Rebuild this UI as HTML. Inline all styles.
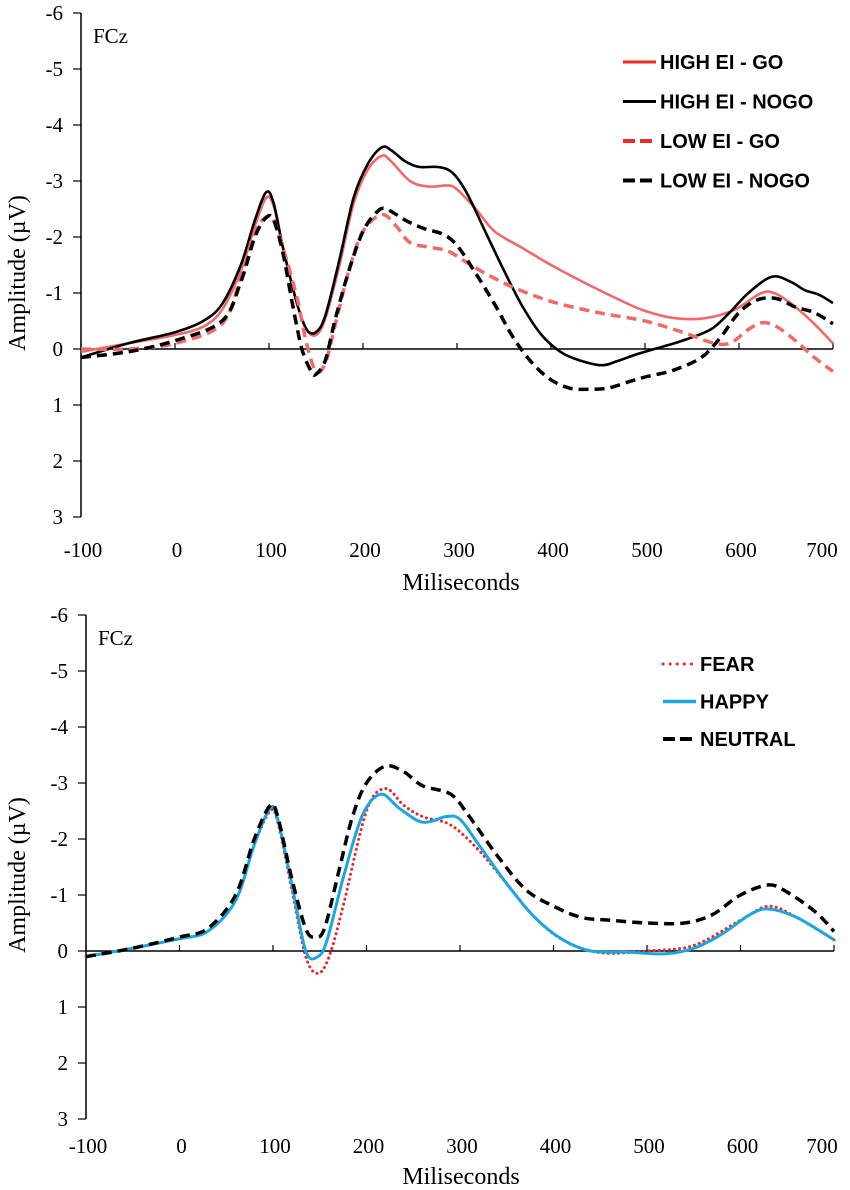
<!DOCTYPE html>
<html><head><meta charset="utf-8"><style>
html,body{margin:0;padding:0;background:#fff;}
svg{display:block;}
.t{font-family:"Liberation Serif",serif;font-size:21px;fill:#000;}
.ti{font-family:"Liberation Serif",serif;font-size:24px;fill:#000;}
.lg{font-family:"Liberation Sans",sans-serif;font-size:20px;font-weight:bold;fill:#000;}
</style></head><body>
<svg id="svg" width="850" height="1190" viewBox="0 0 850 1190"></svg>
<script>
// ---- Top panel data (ms, µV; negative plotted up) ----
const topHighGoX=[-100,-50,0,30,50,70,85,97,105,115,130,140,150,160,175,190,205,220,230,250,270,290,300,320,340,370,400,436,470,500,532,564,595,624,640,660,680,700];
const topHighGoY=[0.05,-0.1,-0.25,-0.4,-0.7,-1.4,-2.2,-2.7,-2.55,-1.8,-0.8,-0.35,-0.25,-0.55,-1.5,-2.6,-3.2,-3.45,-3.35,-3.0,-2.9,-2.92,-2.85,-2.5,-2.1,-1.8,-1.5,-1.18,-0.9,-0.68,-0.55,-0.55,-0.7,-1.0,-0.98,-0.75,-0.45,-0.1];
const topHighNogoX=[-100,-50,0,30,50,70,85,97,105,115,130,140,150,160,175,190,205,220,230,245,260,280,295,310,330,350,370,390,410,430,454,470,490,510,540,570,590,610,635,655,670,685,700];
const topHighNogoY=[0.15,-0.1,-0.3,-0.5,-0.8,-1.5,-2.3,-2.8,-2.6,-1.8,-0.8,-0.35,-0.3,-0.6,-1.6,-2.7,-3.3,-3.6,-3.55,-3.35,-3.25,-3.25,-3.15,-2.8,-2.1,-1.4,-0.75,-0.25,0.05,0.2,0.29,0.22,0.1,0.0,-0.15,-0.35,-0.65,-1.0,-1.29,-1.2,-1.05,-0.97,-0.82];
const topLowGoX=[-100,-50,0,50,70,85,97,105,115,130,140,150,160,170,185,200,220,235,250,270,290,310,330,360,400,450,500,540,570,590,610,625,640,660,680,700];
const topLowGoY=[0.0,0.0,-0.1,-0.45,-1.3,-2.1,-2.35,-2.3,-1.8,-0.9,-0.1,0.4,0.25,-0.4,-1.4,-2.1,-2.4,-2.2,-1.9,-1.82,-1.75,-1.55,-1.35,-1.1,-0.85,-0.65,-0.5,-0.3,-0.12,-0.1,-0.35,-0.47,-0.4,-0.15,0.15,0.4];
const topLowNogoX=[-100,-50,0,50,70,85,97,105,115,125,135,145,150,160,170,185,200,215,225,245,265,285,300,320,340,360,380,400,420,440,460,480,500,530,560,580,600,620,640,660,680,700];
const topLowNogoY=[0.15,0.05,-0.15,-0.5,-1.2,-2.0,-2.35,-2.3,-1.7,-0.8,0.0,0.4,0.45,0.2,-0.5,-1.4,-2.1,-2.45,-2.5,-2.3,-2.15,-2.05,-1.85,-1.35,-0.8,-0.2,0.25,0.55,0.7,0.72,0.7,0.6,0.5,0.38,0.15,-0.2,-0.65,-0.88,-0.9,-0.75,-0.65,-0.45];
// ---- Bottom panel data ----
const botNeutralX=[-100,-50,0,30,60,80,97,105,120,135,145,155,170,185,200,220,240,260,290,310,340,370,400,430,460,500,540,570,600,630,650,680,700];
const botNeutralY=[0.1,-0.05,-0.25,-0.4,-1.0,-2.0,-2.6,-2.4,-1.3,-0.4,-0.25,-0.4,-1.4,-2.4,-3.0,-3.3,-3.2,-2.95,-2.8,-2.4,-1.7,-1.1,-0.8,-0.6,-0.55,-0.5,-0.5,-0.65,-1.0,-1.18,-1.05,-0.7,-0.35];
const botHappyX=[-100,-50,0,30,60,80,97,105,120,135,148,158,175,195,215,235,260,285,300,320,350,380,410,440,480,520,550,580,610,630,660,700];
const botHappyY=[0.1,-0.05,-0.22,-0.35,-0.9,-1.9,-2.55,-2.35,-1.2,0.0,0.1,-0.2,-1.3,-2.4,-2.8,-2.55,-2.3,-2.4,-2.35,-1.9,-1.2,-0.6,-0.2,0.0,0.02,0.05,-0.05,-0.3,-0.65,-0.75,-0.6,-0.2];
const botFearX=[-100,-50,0,30,60,80,97,105,120,135,148,160,175,200,220,240,260,290,320,350,380,410,450,500,550,600,630,660,700];
const botFearY=[0.1,-0.05,-0.22,-0.35,-0.9,-1.9,-2.5,-2.3,-1.1,0.1,0.4,0.1,-0.8,-2.5,-2.9,-2.6,-2.4,-2.25,-1.8,-1.2,-0.6,-0.2,0.03,0.0,-0.1,-0.55,-0.8,-0.6,-0.2];
// ---- Axis ticks ----
const xTicks=[-100,0,100,200,300,400,500,600,700];
const yTicks=[-6,-5,-4,-3,-2,-1,0,1,2,3];

const NS="http://www.w3.org/2000/svg";
const svg=document.getElementById('svg');
function mk(tag,attrs,parent){const e=document.createElementNS(NS,tag);for(const k in attrs)e.setAttribute(k,attrs[k]);(parent||svg).appendChild(e);return e;}
function smooth(pts){let d='M'+pts[0][0].toFixed(1)+','+pts[0][1].toFixed(1);
 for(let i=0;i<pts.length-1;i++){const p0=pts[i-1]||pts[i],p1=pts[i],p2=pts[i+1],p3=pts[i+2]||p2;
  const c1x=p1[0]+(p2[0]-p0[0])/6,c1y=p1[1]+(p2[1]-p0[1])/6,c2x=p2[0]-(p3[0]-p1[0])/6,c2y=p2[1]-(p3[1]-p1[1])/6;
  d+=' C'+c1x.toFixed(1)+','+c1y.toFixed(1)+' '+c2x.toFixed(1)+','+c2y.toFixed(1)+' '+p2[0].toFixed(1)+','+p2[1].toFixed(1);}
 return d;}

function panel(cfg,prefix,series){
 const zeroY=cfg.zeroY, x0=cfg.x0, kx=cfg.kx;
 const xS=v=>x0+v*kx;
 const yS=v=>zeroY+v*56;
 const axX=xS(-100);
 const g=mk('g',{});
 
 
 const ya=mk('line',{x1:axX,y1:yS(-6),x2:axX,y2:yS(3),stroke:'#000','stroke-width':1.5},g);
 
 
 yTicks.forEach(v=>{
  mk('line',{x1:axX-8,y1:yS(v),x2:axX,y2:yS(v),stroke:'#000','stroke-width':1.2},g);
  const t=mk('text',{x:axX-18,y:yS(v)+7,'text-anchor':'end',class:'t'},g);t.textContent=String(v);
  
  
 });
 const xa=mk('line',{x1:axX,y1:zeroY,x2:xS(700),y2:zeroY,stroke:'#000','stroke-width':1.5},g);
 
 
 xTicks.forEach(v=>{
  mk('line',{x1:xS(v),y1:zeroY,x2:xS(v),y2:zeroY-6,stroke:'#000','stroke-width':1.2},g);
  const t=mk('text',{x:Math.min(xS(v)+2,822),y:yS(3)+cfg.lblOff,'text-anchor':'middle',class:'t'},g);t.textContent=String(v);
  
  
 });
 const xt=mk('text',{x:461,y:yS(3)+cfg.titleOff,'text-anchor':'middle',class:'ti'},g);xt.textContent='Miliseconds';
 
 
 const yt=mk('text',{x:0,y:0,'text-anchor':'middle',class:'ti',transform:'translate(25,'+(zeroY-76)+') rotate(-90)'},g);yt.textContent='Amplitude (µV)';
 
 
 const ch=mk('text',{x:axX+12,y:yS(-6)+30,class:'t'},g);ch.textContent='FCz';
 
 
 series.forEach((s,i)=>{
  const pts=s.x.map((v,j)=>[xS(v),yS(s.y[j])]);
  const p=mk('path',{d:smooth(pts),fill:'none',stroke:s.c,'stroke-width':s.w,'stroke-dasharray':s.dash||'none','stroke-linecap':s.cap||'butt'},g);
  
  
  const ly=cfg.legY+i*cfg.legStep;
  const le=mk('g',{},g);
  
  
  mk('line',{x1:cfg.legX,y1:ly,x2:cfg.legX+33,y2:ly,stroke:s.lc||s.c,'stroke-width':s.lw||s.w,'stroke-dasharray':s.ldash||s.dash||'none','stroke-linecap':s.cap||'butt'},le);
  const lt=mk('text',{x:cfg.legX+37,y:ly+7,class:'lg'},le);lt.textContent=s.label;
 });
}
panel({zeroY:349,x0:175,kx:0.94,lblOff:40,titleOff:73,legX:623,legY:62,legStep:39.5},'top',[
 {id:'high-go',label:'HIGH EI - GO',x:topHighGoX,y:topHighGoY,c:'#f06a6a',lc:'#ee2a2a',w:2.6,lw:3},
 {id:'high-nogo',label:'HIGH EI - NOGO',x:topHighNogoX,y:topHighNogoY,c:'#000',w:2.6,lw:3},
 {id:'low-go',label:'LOW EI - GO',x:topLowGoX,y:topLowGoY,c:'#f06a6a',lc:'#ee2a2a',w:3.5,lw:4,dash:'10,6',ldash:'12,5'},
 {id:'low-nogo',label:'LOW EI - NOGO',x:topLowNogoX,y:topLowNogoY,c:'#000',w:3.5,lw:4,dash:'10,6',ldash:'12,5'}
]);
panel({zeroY:951,x0:179.5,kx:0.935,lblOff:34,titleOff:65,legX:663,legY:664,legStep:37.5},'bottom',[
 {id:'fear',label:'FEAR',x:botFearX,y:botFearY,c:'#e8262a',w:3,dash:'0.1,5',ldash:'0.1,7',cap:'round'},
 {id:'happy',label:'HAPPY',x:botHappyX,y:botHappyY,c:'#1aa6e0',w:3,lw:3.5},
 {id:'neutral',label:'NEUTRAL',x:botNeutralX,y:botNeutralY,c:'#000',w:3.5,lw:4,dash:'10,6',ldash:'12,5'}
]);
</script>
</body></html>
